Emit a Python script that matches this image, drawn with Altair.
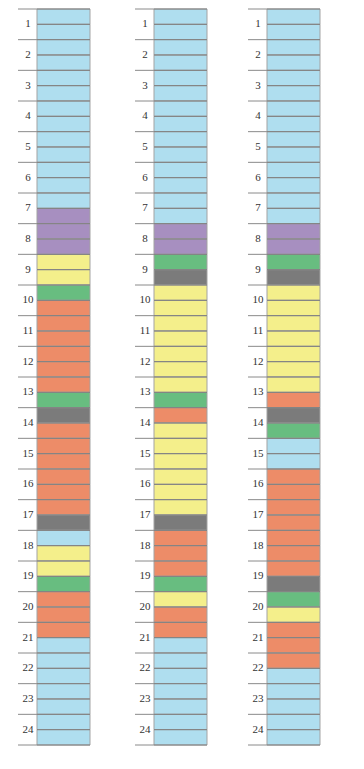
import altair as alt
import pandas as pd

# Hour labels (rows) – each hour is split into two half-hour cells
hour_labels = [str(h) for h in range(1, 25)]

# Activity categories and their colours
activities = ["blue", "purple", "yellow", "green", "orange", "gray"]
activity_colors = ["#afdeef", "#a78fc0", "#f4ef8b", "#68bd80", "#ed8c68", "#7b7b7b"]

# Runs of half-hour cells (activity, number of half-hour cells) for each column
day1_runs = [("blue", 13), ("purple", 3), ("yellow", 2), ("green", 1), ("orange", 6),
             ("green", 1), ("gray", 1), ("orange", 6), ("gray", 1), ("blue", 1),
             ("yellow", 2), ("green", 1), ("orange", 3), ("blue", 7)]
day2_runs = [("blue", 14), ("purple", 2), ("green", 1), ("gray", 1), ("yellow", 7),
             ("green", 1), ("orange", 1), ("yellow", 6), ("gray", 1), ("orange", 3),
             ("green", 1), ("yellow", 1), ("orange", 2), ("blue", 7)]
day3_runs = [("blue", 14), ("purple", 2), ("green", 1), ("gray", 1), ("yellow", 7),
             ("orange", 1), ("gray", 1), ("green", 1), ("blue", 2), ("orange", 7),
             ("gray", 1), ("green", 1), ("yellow", 1), ("orange", 3), ("blue", 5)]

LABEL_W = 19
PANEL_W = 72
PANEL_H = 736
N_CELLS = 2 * len(hour_labels)

yscale = alt.Scale(domain=[0, N_CELLS], reverse=True, nice=False, zero=False)
cscale = alt.Scale(domain=activities, range=activity_colors)


def panel(runs):
    cells = []
    i = 0
    for act, n in runs:
        for _ in range(n):
            cells.append({"start": i, "end": i + 1, "act": act})
            i += 1
    df_cells = pd.DataFrame(cells)
    df_bounds = pd.DataFrame({"b": list(range(0, N_CELLS + 1))})
    df_hours = pd.DataFrame({"b": list(range(0, N_CELLS + 1, 2))})
    df_labels = pd.DataFrame({
        "label": hour_labels,
        "mid": [2 * k + 1 for k in range(len(hour_labels))],
    })

    rects = alt.Chart(df_cells).mark_rect(stroke="#a3a3a3", strokeWidth=1).encode(
        x=alt.value(LABEL_W), x2=alt.value(PANEL_W),
        y=alt.Y("start:Q", scale=yscale, axis=None), y2="end:Q",
        color=alt.Color("act:N", scale=cscale, legend=None),
    )
    cell_lines = alt.Chart(df_bounds).mark_rule(color="#7f7f7f", strokeWidth=1).encode(
        x=alt.value(LABEL_W), x2=alt.value(PANEL_W),
        y=alt.Y("b:Q", scale=yscale, axis=None),
    )
    hour_lines = alt.Chart(df_hours).mark_rule(color="#8a8a8a", strokeWidth=1).encode(
        x=alt.value(0), x2=alt.value(LABEL_W),
        y=alt.Y("b:Q", scale=yscale, axis=None),
    )
    labels = alt.Chart(df_labels).mark_text(
        font="Liberation Serif", fontSize=11, color="#333333", align="center", baseline="middle"
    ).encode(
        x=alt.value(LABEL_W / 2 + 0.5),
        y=alt.Y("mid:Q", scale=yscale, axis=None),
        text="label:N",
    )
    return alt.layer(rects, cell_lines, hour_lines, labels).properties(width=PANEL_W, height=PANEL_H)


left_pair = alt.hconcat(panel(day1_runs), panel(day2_runs), spacing=43)
chart = alt.hconcat(left_pair, panel(day3_runs), spacing=39).properties(
    padding={"left": 17, "top": 8, "right": 5, "bottom": 5}
).configure_view(stroke=None)

chart.save("out.html", embed_options={"renderer": "svg", "actions": False})
